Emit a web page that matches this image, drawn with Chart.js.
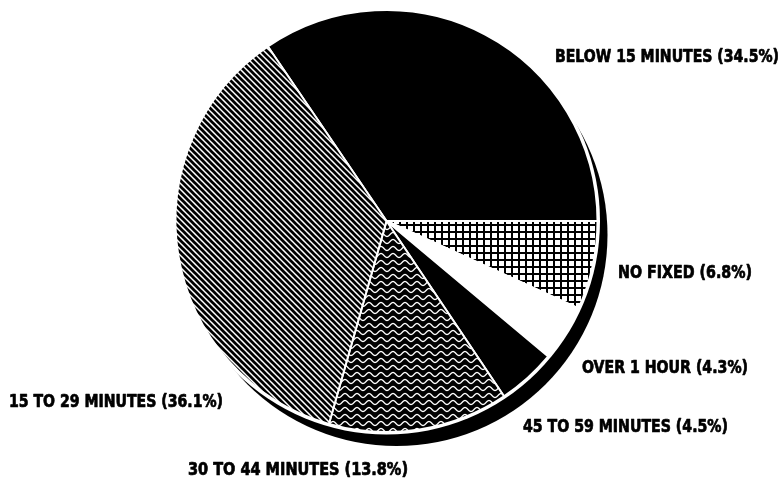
<!DOCTYPE html>
<html>
<head>
<meta charset="utf-8">
<script src="https://cdn.jsdelivr.net/npm/chart.js@4.4.1/dist/chart.umd.min.js"></script>
<style>
  html, body { margin: 0; padding: 0; background: #ffffff; }
  #wrap { width: 784px; height: 479px; position: relative; }
</style>
</head>
<body>
<div id="wrap"><canvas id="c" width="784" height="479"></canvas></div>
<script>
// ---- data ----
const categories = [
  "BELOW 15 MINUTES",
  "NO FIXED",
  "OVER 1 HOUR",
  "45 TO 59 MINUTES",
  "30 TO 44 MINUTES",
  "15 TO 29 MINUTES"
];
const shares = [34.5, 6.8, 4.3, 4.5, 13.8, 36.1];
const labelTexts = categories.map((c, i) => c + " (" + shares[i].toFixed(1) + "%)");

// ---- layout / style (not data) ----
const fillKinds = ["solid", "grid", "white", "solid", "wave", "stripes"];
const labelLayout = [
  { x: 555, y: 57,  w: 224 },
  { x: 618, y: 273, w: 134 },
  { x: 582, y: 368, w: 166 },
  { x: 523, y: 427, w: 205 },
  { x: 188, y: 470, w: 220 },
  { x: 9,   y: 402, w: 214 }
];

function makePattern(kind) {
  const t = document.createElement('canvas');
  const g = t.getContext('2d');
  if (kind === 'solid') return '#000000';
  if (kind === 'white') return '#ffffff';
  if (kind === 'grid') {
    t.width = 7; t.height = 7;
    g.fillStyle = '#ffffff'; g.fillRect(0, 0, 7, 7);
    g.fillStyle = '#000000';
    g.fillRect(0, 0, 2, 7);
    g.fillRect(0, 0, 7, 2);
  } else if (kind === 'stripes') {
    t.width = 6; t.height = 6;
    g.fillStyle = '#ffffff'; g.fillRect(0, 0, 6, 6);
    g.strokeStyle = '#000000'; g.lineWidth = 2.7;
    for (const x0 of [-6, 0, 6]) {
      g.beginPath(); g.moveTo(x0 - 1, -1); g.lineTo(x0 + 7, 7); g.stroke();
    }
  } else if (kind === 'wave') {
    t.width = 12; t.height = 7;
    g.fillStyle = '#000000'; g.fillRect(0, 0, 12, 7);
    g.strokeStyle = '#ffffff'; g.lineWidth = 1.3;
    g.beginPath();
    for (let x = -1; x <= 13; x += 0.5) {
      const y = 3.5 + 2.0 * Math.sin(2 * Math.PI * x / 12);
      if (x === -1) g.moveTo(x, y); else g.lineTo(x, y);
    }
    g.stroke();
  }
  return g.createPattern(t, 'repeat');
}

const shadowPlugin = {
  id: 'shadow',
  beforeDatasetsDraw(chart) {
    const arc = chart.getDatasetMeta(0).data[0];
    if (!arc) return;
    const { x, y, outerRadius } = arc.getProps(['x', 'y', 'outerRadius'], true);
    const ctx = chart.ctx;
    ctx.save();
    ctx.fillStyle = '#000000';
    ctx.beginPath(); ctx.arc(x + 10, y + 14, outerRadius, 0, Math.PI * 2); ctx.fill();
    ctx.fillStyle = '#ffffff';
    ctx.beginPath(); ctx.arc(x, y, outerRadius + 2.5, 0, Math.PI * 2); ctx.fill();
    ctx.restore();
  }
};

const labelPlugin = {
  id: 'sliceLabels',
  afterDraw(chart) {
    const ctx = chart.ctx;
    ctx.save();
    ctx.fillStyle = '#000000';
    ctx.strokeStyle = '#000000';
    ctx.lineWidth = 0.7;
    ctx.lineJoin = 'round';
    ctx.font = 'bold 18px "Liberation Sans Narrow", "DejaVu Sans Condensed", "Roboto Condensed", sans-serif';
    ctx.textBaseline = 'middle';
    ctx.textAlign = 'left';
    labelTexts.forEach((txt, i) => {
      const L = labelLayout[i];
      const m = ctx.measureText(txt).width;
      const sx = L.w / m;
      ctx.save();
      ctx.translate(L.x, L.y);
      ctx.scale(sx, 1);
      ctx.fillText(txt, 0, 0);
      ctx.strokeText(txt, 0, 0);
      ctx.restore();
    });
    ctx.restore();
  }
};

new Chart(document.getElementById('c'), {
  type: 'pie',
  data: {
    labels: categories,
    datasets: [{
      data: shares,
      backgroundColor: fillKinds.map(makePattern),
      borderColor: '#ffffff',
      borderWidth: 2
    }]
  },
  options: {
    responsive: false,
    animation: false,
    rotation: -34.2,
    layout: { padding: { left: 174, right: 185, top: 9, bottom: 46 } },
    plugins: {
      legend: { display: false },
      tooltip: { enabled: false }
    }
  },
  plugins: [shadowPlugin, labelPlugin]
});
</script>
</body>
</html>
